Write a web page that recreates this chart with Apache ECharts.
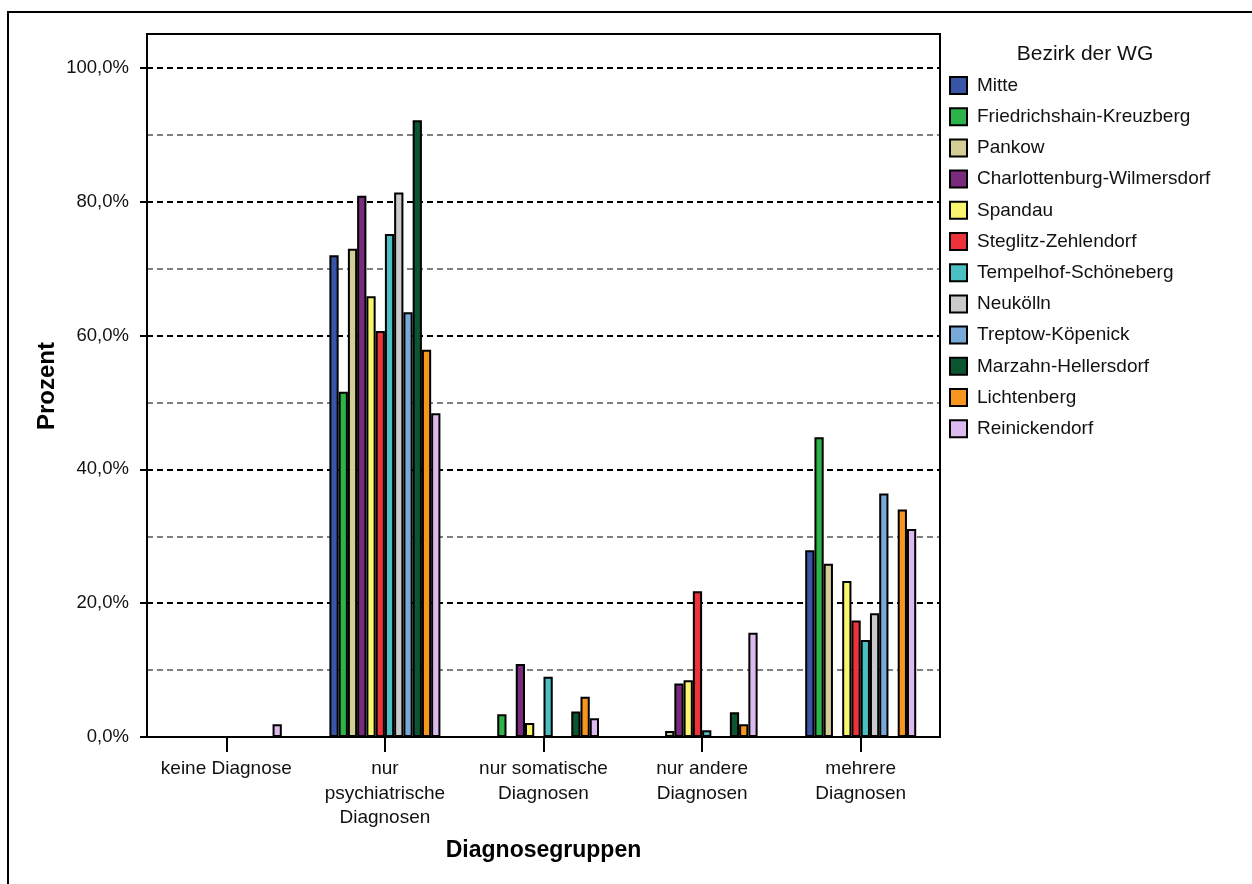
<!DOCTYPE html>
<html>
<head>
<meta charset="utf-8">
<script src="https://cdn.jsdelivr.net/npm/echarts@6/dist/echarts.min.js"></script>
<style>
html,body{margin:0;padding:0;background:#fff;}
#chart{width:1252px;height:884px;}
</style>
</head>
<body>
<div id="chart"></div>
<script>
const categories = ['keine Diagnose', 'nur\npsychiatrische\nDiagnosen', 'nur somatische\nDiagnosen', 'nur andere\nDiagnosen', 'mehrere\nDiagnosen'];
const yTicks = [0, 20, 40, 60, 80, 100];

const mitte = [0, 72.0, 0, 0, 27.9];
const friedrichshainKreuzberg = [0, 51.6, 3.4, 0, 44.8];
const pankow = [0, 73.0, 0, 0.9, 25.9];
const charlottenburgWilmersdorf = [0, 80.9, 10.9, 8.0, 0];
const spandau = [0, 65.9, 2.1, 8.5, 23.3];
const steglitzZehlendorf = [0, 60.7, 0, 21.8, 17.4];
const tempelhofSchoeneberg = [0, 75.2, 9.0, 1.0, 14.5];
const neukoelln = [0, 81.4, 0, 0, 18.5];
const treptowKoepenick = [0, 63.5, 0, 0, 36.4];
const marzahnHellersdorf = [0, 92.2, 3.8, 3.7, 0];
const lichtenberg = [0, 57.9, 6.0, 1.9, 34.0];
const reinickendorf = [1.9, 48.4, 2.8, 15.6, 31.1];

const seriesNames = ['Mitte', 'Friedrichshain-Kreuzberg', 'Pankow', 'Charlottenburg-Wilmersdorf', 'Spandau', 'Steglitz-Zehlendorf', 'Tempelhof-Schöneberg', 'Neukölln', 'Treptow-Köpenick', 'Marzahn-Hellersdorf', 'Lichtenberg', 'Reinickendorf'];
const seriesValues = [mitte, friedrichshainKreuzberg, pankow, charlottenburgWilmersdorf, spandau, steglitzZehlendorf, tempelhofSchoeneberg, neukoelln, treptowKoepenick, marzahnHellersdorf, lichtenberg, reinickendorf];

const colors = ['#3A55A5', '#2DB34A', '#D3CD96', '#7B2B7D', '#FAF56E', '#EE3239', '#4AC0C3', '#CACACA', '#77A8D6', '#0B5630', '#F7961F', '#DDBAEE'];

const FONT = '"Liberation Sans", Arial, sans-serif';
const chart = echarts.init(document.getElementById('chart'), null, {renderer: 'canvas'});

const series = seriesNames.map((name, i) => ({
  name: name,
  type: 'bar',
  data: seriesValues[i],
  barGap: '0%',
  barCategoryGap: '30%',
  itemStyle: {color: colors[i], borderColor: '#000', borderWidth: 2},
  emphasis: {disabled: true},
  z: 3
}));

chart.setOption({
  animation: false,
  color: colors,
  textStyle: {fontFamily: FONT},
  grid: {left: 147, right: 312, top: 68, bottom: 147, containLabel: false},
  legend: {
    orient: 'vertical',
    left: 944,
    top: 71,
    itemWidth: 17,
    itemHeight: 17,
    itemGap: 12.2,
    icon: 'rect',
    selectedMode: false,
    itemStyle: {borderColor: '#000', borderWidth: 2},
    textStyle: {fontFamily: FONT, fontSize: 19, color: '#111', padding: [0, 0, 0, 5]},
    data: seriesNames
  },
  xAxis: {
    type: 'category',
    data: categories,
    name: 'Diagnosegruppen',
    nameLocation: 'middle',
    nameGap: 102,
    nameTextStyle: {fontFamily: FONT, fontSize: 23, fontWeight: 'bold', color: '#000'},
    axisLine: {show: true, lineStyle: {color: '#000', width: 2}},
    axisTick: {show: true, alignWithLabel: true, length: 15, lineStyle: {color: '#000', width: 2}},
    axisLabel: {fontFamily: FONT, fontSize: 19, lineHeight: 24.5, color: '#111', margin: 20, interval: 0},
    splitLine: {show: false}
  },
  yAxis: {
    type: 'value',
    min: 0,
    max: 100,
    interval: 20,
    axisLine: {show: true, lineStyle: {color: '#000', width: 2}},
    axisTick: {show: true, length: 7, lineStyle: {color: '#000', width: 2}},
    axisLabel: {
      fontFamily: FONT, fontSize: 18.5, color: '#111', margin: 18,
      formatter: v => v.toFixed(1).replace('.', ',') + '%'
    },
    splitLine: {show: true, lineStyle: {color: '#000', width: 2, type: [6, 4]}},
    minorTick: {show: false, splitNumber: 2},
    minorSplitLine: {show: true, lineStyle: {color: '#7F7F7F', width: 2, type: [6, 4]}}
  },
  graphic: [
    {type: 'rect', shape: {x: 8, y: 12, width: 1300, height: 1000}, style: {fill: 'none', stroke: '#000', lineWidth: 2}, z: 100, silent: true},
    {type: 'rect', shape: {x: 147, y: 34, width: 793, height: 703}, style: {fill: 'none', stroke: '#000', lineWidth: 2}, z: 100, silent: true},
    {type: 'text', x: 1085, y: 54, style: {text: 'Bezirk der WG', fontFamily: FONT, fontSize: 21, fill: '#111', align: 'center', verticalAlign: 'middle'}, z: 100, silent: true},
    {type: 'text', x: 47, y: 386, rotation: Math.PI / 2, style: {text: 'Prozent', fontFamily: FONT, fontSize: 24, fontWeight: 'bold', fill: '#000', align: 'center', verticalAlign: 'middle'}, z: 100, silent: true}
  ],
  series: series
});
</script>
</body>
</html>
